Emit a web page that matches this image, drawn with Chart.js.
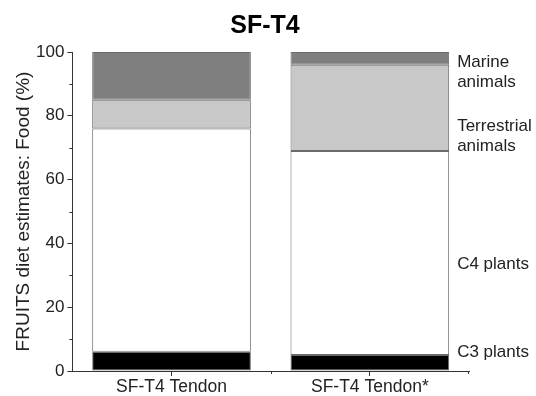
<!DOCTYPE html>
<html>
<head>
<meta charset="utf-8">
<script src="https://cdn.jsdelivr.net/npm/chart.js@4/dist/chart.umd.min.js"></script>
<style>
html,body{margin:0;padding:0;background:#fff;}
#wrap{width:536px;height:396px;}
</style>
</head>
<body>
<div id="wrap"><canvas id="c" width="536" height="396"></canvas></div>
<script>
const categories = ['SF-T4 Tendon', 'SF-T4 Tendon*'];
const c3Plants = [6, 5];
const c4Plants = [70, 64];
const terrestrialAnimals = [9, 27];
const marineAnimals = [15, 4];
const seriesNames = ['C3 plants', 'C4 plants', 'Terrestrial animals', 'Marine animals'];
const yTicks = [0, 20, 40, 60, 80, 100];
const chartTitle = 'SF-T4';

const FONT = "'Liberation Sans', Arial, sans-serif";
const TXT = '#222';

// side labels: [lines, anchor value on y scale]
const sideLabels = [
  [['C3 plants'], 6],
  [['C4 plants'], 33.5],
  [['Terrestrial', 'animals'], 73.5],
  [['Marine', 'animals'], 93.5]
];

const extras = {
  id: 'extras',
  afterDraw(chart) {
    const ctx = chart.ctx;
    const y = chart.scales.y, x = chart.scales.x;
    ctx.save();
    ctx.strokeStyle = '#333';
    ctx.lineWidth = 1;
    // y minor ticks
    for (let v = 10; v < 100; v += 20) {
      const py = Math.round(y.getPixelForValue(v)) + 0.5;
      ctx.beginPath(); ctx.moveTo(x.left - 3, py); ctx.lineTo(x.left, py); ctx.stroke();
    }
    // x minor tick between categories
    const px = Math.round((x.getPixelForValue(0) + x.getPixelForValue(1)) / 2) + 0.5;
    ctx.beginPath(); ctx.moveTo(px, y.bottom); ctx.lineTo(px, y.bottom + 3); ctx.stroke();
    // right end stub
    ctx.beginPath(); ctx.moveTo(x.right - 0.5, y.bottom); ctx.lineTo(x.right - 0.5, y.bottom + 3); ctx.stroke();
    // title
    ctx.fillStyle = '#000';
    ctx.font = 'bold 25px ' + FONT;
    ctx.textAlign = 'center';
    ctx.textBaseline = 'middle';
    ctx.fillText(chartTitle, chart.width / 2 - 3, 26);
    // side labels
    const meta = chart.getDatasetMeta(0);
    const bar = meta.data[1];
    const lx = bar.x + bar.width / 2 + 8;
    ctx.fillStyle = TXT;
    ctx.font = '17px ' + FONT;
    ctx.textAlign = 'left';
    ctx.textBaseline = 'middle';
    const lh = 20;
    sideLabels.forEach(([lines, v]) => {
      const cy = y.getPixelForValue(v);
      const start = cy - (lines.length - 1) * lh / 2;
      lines.forEach((t, i) => ctx.fillText(t, lx, start + i * lh));
    });
    ctx.restore();
  }
};

const colors = ['#000000', '#ffffff', '#c8c8c8', '#7f7f7f'];
const seriesData = [c3Plants, c4Plants, terrestrialAnimals, marineAnimals];

new Chart(document.getElementById('c'), {
  type: 'bar',
  data: {
    labels: categories,
    datasets: seriesData.map((d, i) => ({
      label: seriesNames[i],
      data: d,
      backgroundColor: colors[i],
      borderColor: '#6a6a6a',
      borderWidth: 1,
      borderSkipped: false,
      barPercentage: 0.8,
      categoryPercentage: 1.0
    }))
  },
  options: {
    responsive: false,
    animation: false,
    devicePixelRatio: 1,
    layout: { padding: { left: 14, right: 67, top: 52, bottom: -3 } },
    plugins: {
      legend: { display: false },
      tooltip: { enabled: false },
      title: { display: false }
    },
    scales: {
      x: {
        stacked: true,
        offset: true,
        grid: { display: true, drawOnChartArea: false, offset: false, tickLength: 5, color: '#333' },
        border: { display: true, color: '#333', width: 1 },
        ticks: { color: TXT, font: { family: FONT, size: 17.5 }, padding: 1, maxRotation: 0 }
      },
      y: {
        stacked: true,
        min: 0,
        max: 100,
        afterBuildTicks(s) { s.ticks = yTicks.map(v => ({ value: v })); },
        grid: { display: true, drawOnChartArea: false, tickLength: 5, color: '#333' },
        border: { display: true, color: '#333', width: 1 },
        ticks: { color: TXT, font: { family: FONT, size: 17 }, padding: 3 },
        title: {
          display: true,
          text: 'FRUITS diet estimates: Food (%)',
          color: TXT,
          font: { family: FONT, size: 19, lineHeight: 1.0 },
          padding: { top: 0, bottom: 0 }
        }
      }
    }
  },
  plugins: [extras]
});
</script>
</body>
</html>
